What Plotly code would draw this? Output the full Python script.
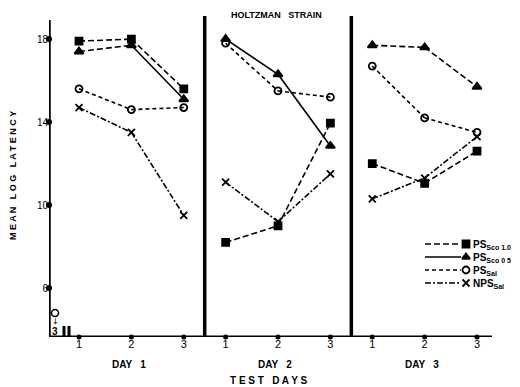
import plotly.graph_objects as go

# ---------------- data ----------------
DAY_LABELS = ["DAY   1", "DAY   2", "DAY   3"]
SESSIONS = [1, 2, 3]
SESSION_LABELS = ["1", "2", "3"]
DAY_OFFSET = [0.0, 2.8, 5.6]
Y_TICKS = [6, 10, 14, 18]
Y_TICK_LABELS = ["6", "10", "14", "18"]

PS_SCO10 = [[17.9, 18.0, 15.6], [8.2, 9.0, 13.95], [12.0, 11.05, 12.6]]
PS_SCO05 = [[17.4, 17.7, 15.1], [18.0, 16.3, 12.85], [17.7, 17.6, 15.7]]
PS_SAL = [[15.6, 14.6, 14.7], [17.8, 15.5, 15.2], [16.7, 14.2, 13.5]]
NPS_SAL = [[14.7, 13.5, 9.5], [11.1, 9.2, 11.5], [10.3, 11.3, 13.3]]

LEGEND_LABELS = ["PS<sub>Sco 1.0</sub>", "PS<sub>Sco 0 5</sub>", "PS<sub>Sal</sub>", "NPS<sub>Sal</sub>"]

# ---------------- styles ----------------
OFF = 8  # page body margin of the html page
W, H = 520 - OFF, 387 - OFF
ML, MR, MT, MB = 49 - OFF, 28, 15 - OFF, 50
X_RANGE = [0.427, 8.886]
Y_RANGE = [3.64, 19.16]
PW, PH = W - ML - MR, H - MT - MB

# helpers take positions in screen pixels of the final picture
def dx(px):
    return X_RANGE[0] + (px - OFF - ML) / PW * (X_RANGE[1] - X_RANGE[0])

def dy(py):
    return Y_RANGE[0] + (H - MB - (py - OFF)) / PH * (Y_RANGE[1] - Y_RANGE[0])

def paper_x(px):
    return (px - OFF - ML) / PW

def paper_y(py):
    return (H - MB - (py - OFF)) / PH

LONG = "6px,3px"
SHORT = "4px,3px"
DASHDOT = "6px,2px,2px,2px"

series = [
    dict(vals=PS_SCO10, symbol="square", size=7, dash=[[LONG, LONG]] * 3, leg=LONG),
    dict(vals=PS_SCO05, symbol="triangle-up", size=8,
         dash=[[LONG, "solid"], ["solid", "solid"], [LONG, LONG]], leg="solid"),
    dict(vals=PS_SAL, symbol="circle-open", size=7, dash=[[SHORT, SHORT]] * 3, leg=SHORT),
    dict(vals=NPS_SAL, symbol="x-thin-open", size=7, dash=[[DASHDOT, DASHDOT]] * 3, leg=DASHDOT),
]

fig = go.Figure()

for s in series:
    for d in range(3):
        xs = [DAY_OFFSET[d] + k for k in SESSIONS]
        ys = s["vals"][d]
        for seg in range(2):
            fig.add_trace(go.Scatter(
                x=xs[seg:seg + 2], y=ys[seg:seg + 2], mode="lines",
                line=dict(color="black", width=1.6, dash=s["dash"][d][seg]),
                showlegend=False, hoverinfo="skip"))
        fig.add_trace(go.Scatter(
            x=xs, y=ys, mode="markers",
            marker=dict(symbol=s["symbol"], size=s["size"], color="black",
                        line=dict(color="black", width=1.8)),
            showlegend=False, cliponaxis=False))

# axis dots
all_x = [DAY_OFFSET[d] + k for d in range(3) for k in SESSIONS]
fig.add_trace(go.Scatter(x=all_x, y=[Y_RANGE[0]] * len(all_x), mode="markers",
                         marker=dict(color="black", size=5), cliponaxis=False,
                         showlegend=False, hoverinfo="skip"))
fig.add_trace(go.Scatter(x=[X_RANGE[0]] * len(Y_TICKS), y=Y_TICKS, mode="markers",
                         marker=dict(color="black", size=6), cliponaxis=False,
                         showlegend=False, hoverinfo="skip"))

annotations = []
font_b = dict(family="Liberation Sans", size=10, color="black")

def note(px, py, text, font, **kw):
    d = dict(x=paper_x(px), y=paper_y(py), xref="paper", yref="paper", text=text,
             showarrow=False, xanchor="center", yanchor="middle", font=font)
    d.update(kw)
    annotations.append(d)

# manual legend
leg_rows = [244, 257, 270, 283]
for i, s in enumerate(series):
    py = leg_rows[i]
    fig.add_trace(go.Scatter(x=[dx(425), dx(461)], y=[dy(py), dy(py)], mode="lines",
                             line=dict(color="black", width=1.5, dash=s["leg"]),
                             cliponaxis=False, showlegend=False, hoverinfo="skip"))
    fig.add_trace(go.Scatter(x=[dx(466)], y=[dy(py)], mode="markers",
                             marker=dict(symbol=s["symbol"], size=7, color="black",
                                         line=dict(color="black", width=1.8)),
                             cliponaxis=False, showlegend=False, hoverinfo="skip"))
    note(471, py + 1, "<b>" + LEGEND_LABELS[i] + "</b>",
         dict(family="Liberation Sans", size=10, color="black"), xanchor="left")

# baseline marker (off-scale value)
fig.add_trace(go.Scatter(x=[dx(55)], y=[dy(313)], mode="markers",
                         marker=dict(symbol="circle-open", size=7, color="black",
                                     line=dict(width=1.5)),
                         cliponaxis=False, showlegend=False, hoverinfo="skip"))

shapes = []
shapes.append(dict(type="line", xref="x", yref="y", x0=X_RANGE[0], x1=X_RANGE[0],
                   y0=Y_RANGE[0], y1=dy(20), line=dict(color="black", width=3.5)))
shapes.append(dict(type="line", xref="x", yref="y", x0=X_RANGE[0] - 0.05, x1=X_RANGE[1],
                   y0=Y_RANGE[0], y1=Y_RANGE[0], line=dict(color="black", width=3)))
for d in (1, 2):
    xd = (DAY_OFFSET[d - 1] + 3 + DAY_OFFSET[d] + 1) / 2
    shapes.append(dict(type="line", xref="x", yref="y", x0=xd, x1=xd,
                       y0=Y_RANGE[0], y1=dy(16), line=dict(color="black", width=3.5)))
for bx in (64, 69):
    shapes.append(dict(type="line", xref="x", yref="y", x0=dx(bx), x1=dx(bx),
                       y0=dy(326), y1=dy(344), line=dict(color="black", width=3)))

note(55, 321, "↓", dict(family="DejaVu Sans", size=8, color="black"))
note(55, 331, "<b>3</b>", dict(family="Liberation Sans", size=10, color="black"))
for d in range(3):
    annotations.append(dict(x=DAY_OFFSET[d] + 1.95, y=paper_y(364), xref="x", yref="paper",
                            text="<b>" + DAY_LABELS[d] + "</b>", showarrow=False,
                            xanchor="center", yanchor="middle", font=font_b))
note(269, 380, "<b>T E S T   D A Y S</b>", font_b)
note(276, 15, "<b>HOLTZMAN   STRAIN</b>", dict(family="Liberation Sans", size=9, color="black"))
note(13, 176, "<b>M E A N   L O G   L A T E N C Y</b>",
     dict(family="Liberation Sans", size=9, color="black"), textangle=-90)

fig.update_layout(
    width=W, height=H,
    margin=dict(l=ML, r=MR, t=MT, b=MB),
    paper_bgcolor="white", plot_bgcolor="white",
    showlegend=False,
    shapes=shapes, annotations=annotations,
    xaxis=dict(range=X_RANGE, showgrid=False, zeroline=False, showline=False,
               tickvals=all_x, ticktext=SESSION_LABELS * 3, ticks="",
               ticklabelstandoff=-1,
               tickfont=dict(family="Liberation Sans", size=11, color="black")),
    yaxis=dict(range=Y_RANGE, showgrid=False, zeroline=False, showline=False,
               tickvals=Y_TICKS, ticktext=Y_TICK_LABELS, ticks="",
               tickfont=dict(family="Liberation Sans", size=10, color="black")),
)

fig.write_html("out.html")
